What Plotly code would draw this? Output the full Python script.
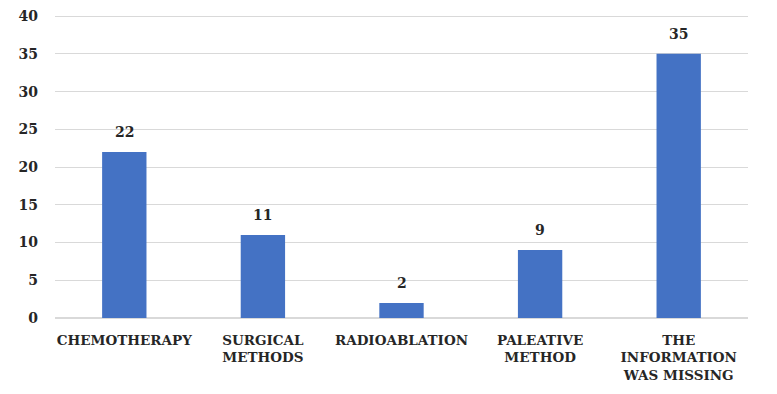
import plotly.graph_objects as go

categories = ["CHEMOTHERAPY", "SURGICAL<br>METHODS", "RADIOABLATION", "PALEATIVE<br>METHOD", "THE<br>INFORMATION<br>WAS MISSING"]
values = [22, 11, 2, 9, 35]
y_ticks = [0, 5, 10, 15, 20, 25, 30, 35, 40]

font_family = "DejaVu Serif"
bar_color = "#4472C4"

fig = go.Figure()
fig.add_trace(go.Bar(x=categories, y=values, marker_color=bar_color, marker_line_width=0))

for c, v in zip(categories, values):
    fig.add_annotation(x=c, y=v, text=f"<b>{v}</b>", showarrow=False, yanchor="bottom",
                       yshift=10, font=dict(family=font_family, size=14, color="#262626"))

fig.update_layout(
    width=777, height=394,
    margin=dict(l=47, r=37, t=7, b=84),
    paper_bgcolor="white", plot_bgcolor="white",
    bargap=0.68,
    showlegend=False,
    font=dict(family=font_family, color="#262626"),
)
fig.update_yaxes(range=[0, 40.15], tickvals=y_ticks, showgrid=True, gridcolor="#D9D9D9", gridwidth=1,
                 zeroline=True, zerolinecolor="#D9D9D9", zerolinewidth=1.5, showline=False,
                 ticks="", automargin=False, ticklabeloverflow="allow",
                 tickfont=dict(family=font_family, size=14, color="#262626", weight="bold"),
                 ticklabelstandoff=16)
fig.update_xaxes(showline=False, ticks="", tickangle=0, automargin=False,
                 tickfont=dict(family=font_family, size=13.5, color="#262626", weight="bold"),
                 ticklabelstandoff=12)

fig.write_html("out.html")
